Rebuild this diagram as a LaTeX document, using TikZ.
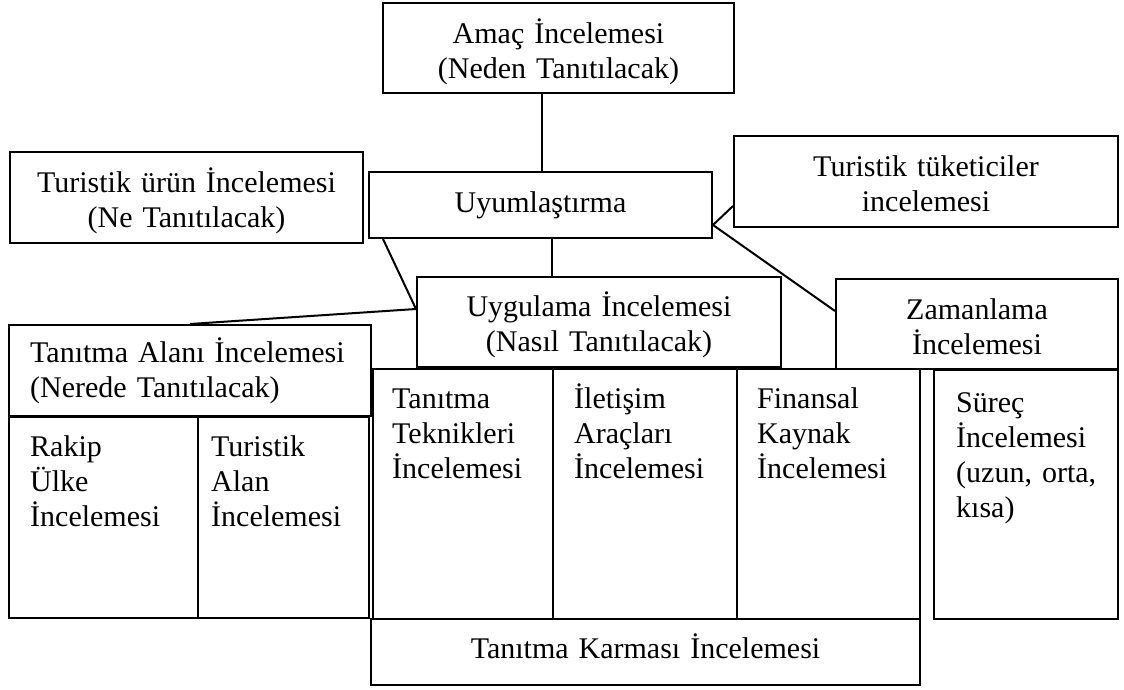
\documentclass[tikz,border=0pt]{standalone}
\usepackage{fontspec}
\setmainfont{Liberation Serif}
\usetikzlibrary{fit,calc}
\tikzset{
  txt/.style={font=\fontsize{30}{35}\selectfont},
  box/.style={draw, line width=2pt, inner sep=0pt, fit={#1}},
  ctext/.style={anchor=base, align=center, inner sep=0pt, text width=380pt, txt},
  lbl/.style={anchor=base west, align=left, inner sep=0pt, text width=330pt, txt},
  link/.style={line width=2pt},
}
\begin{document}
\begin{tikzpicture}[x=1pt, y=-1pt]
\useasboundingbox (0,0) rectangle (1124,690);

% frames of the upper level
\node[box={(383,3) (734,93)}] (amac) {};
\node[box={(10,152) (363,243)}] (urun) {};
\node[box={(369,172) (712,238)}] (uyum) {};
\node[box={(734,136) (1118,227)}] (tuket) {};

% frames of the middle level
\node[box={(417,277) (781,367)}] (uygu) {};
\node[box={(836,279) (1118,369)}] (zaman) {};
\node[box={(9,325) (371,416)}] (alan) {};

% frames of the lower columns
\node[box={(9,417) (198,618)}] (rakip) {};
\node[box={(198,417) (369,618)}] (talan) {};
\node[box={(373,369) (553,619)}] (tek) {};
\node[box={(553,369) (737,619)}] (ilet) {};
\node[box={(737,369) (920,619)}] (fin) {};
\node[box={(934,370) (1118,619)}] (surec) {};
\node[box={(371,619) (920,685)}] (karma) {};

% centred titles (first baseline 41pt under the frame top)
\node[ctext] (tamac)  at ($(amac.north)+(0,42)$)  {Amaç İncelemesi\\(Neden Tanıtılacak)};
\node[ctext] (turun)  at ($(urun.north)+(0,41)$)  {Turistik ürün İncelemesi\\(Ne Tanıtılacak)};
\node[ctext] (tuyum)  at ($(uyum.north)+(0,41)$)  {Uyumlaştırma};
\node[ctext] (ttuket) at ($(tuket.north)+(0,41)$) {Turistik tüketiciler\\incelemesi};
\node[ctext] (tuygu)  at ($(uygu.north)+(0,40)$)  {Uygulama İncelemesi\\(Nasıl Tanıtılacak)};
\node[ctext] (tzaman) at ($(zaman.north)+(0,41)$) {Zamanlama\\İncelemesi};
\node[ctext] (tkarma) at ($(karma.north)+(0,40)$) {Tanıtma Karması İncelemesi};

% left-aligned texts
\node[lbl] (talanx) at ($(alan.north west)+(22,38)$) {Tanıtma Alanı İncelemesi\\(Nerede Tanıtılacak)};
\node[lbl] (trakip) at ($(rakip.north west)+(22,40)$) {Rakip\\Ülke\\İncelemesi};
\node[lbl] (ttalan) at ($(talan.north west)+(14,40)$) {Turistik\\Alan\\İncelemesi};
\node[lbl] (ttek)   at ($(tek.north west)+(20,40)$)   {Tanıtma\\Teknikleri\\İncelemesi};
\node[lbl] (tilet)  at ($(ilet.north west)+(22,40)$)  {İletişim\\Araçları\\İncelemesi};
\node[lbl] (tfin)   at ($(fin.north west)+(21,40)$)   {Finansal\\Kaynak\\İncelemesi};
\node[lbl] (tsurec) at ($(surec.north west)+(23,43)$) {Süreç\\İncelemesi\\(uzun, orta,\\kısa)};

% connectors
\coordinate (va) at (542,0);
\coordinate (vb) at (552,0);
\coordinate (uyumL) at ($(uyum.south west)+(15,0)$);
\coordinate (uyumR) at ($(uyum.south east)+(0,-14)$);
\coordinate (uyguL) at ($(uygu.north west)+(0,33)$);
\coordinate (tuketL) at ($(tuket.south west)+(0,-22)$);
\coordinate (zamanL) at ($(zaman.north west)+(0,33)$);

\draw[link] (amac.south -| va) -- (uyum.north -| va);
\draw[link] (uyum.south -| vb) -- (uygu.north -| vb);
\draw[link] (uyumL) -- (uyguL) -- (alan.north);
\draw[link] (uyumR) -- (tuketL);
\draw[link] (uyumR) -- (zamanL);
\end{tikzpicture}
\end{document}
